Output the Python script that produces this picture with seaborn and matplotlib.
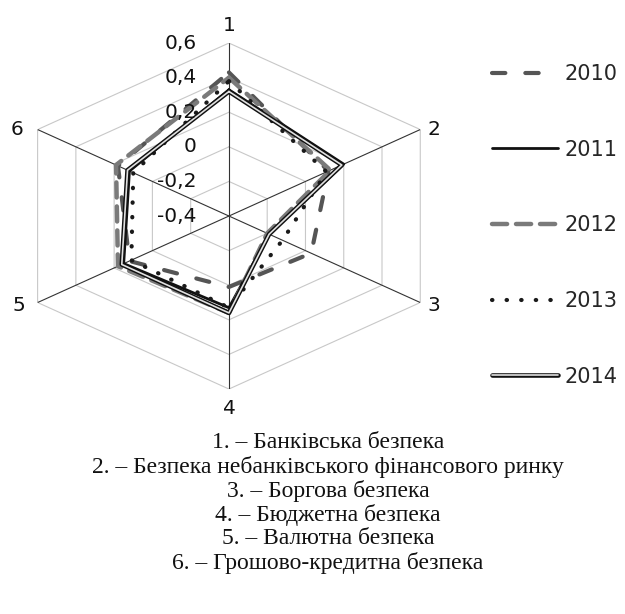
import numpy as np
import pandas as pd
import matplotlib
matplotlib.use("Agg")
import matplotlib.pyplot as plt
import matplotlib.patheffects as pe
import seaborn as sns

# ---------------- data ----------------
axis_labels = ["1", "2", "3", "4", "5", "6"]
years = ["2010", "2011", "2012", "2013", "2014"]
v2010 = [0.43, 0.12, 0.03, 0.01, 0.12, 0.18]
v2011 = [0.33, 0.20, -0.19, 0.13, 0.15, 0.12]
v2012 = [0.40, 0.13, -0.20, 0.16, 0.18, 0.19]
v2013 = [0.38, 0.11, -0.12, 0.13, 0.11, 0.10]
v2014 = [0.32, 0.19, -0.19, 0.16, 0.16, 0.13]
tick_values = [-0.4, -0.2, 0.0, 0.2, 0.4, 0.6]
tick_labels = ["-0,4", "-0,2", "0", "0,2", "0,4", "0,6"]
notes = [
    "1. – Банківська безпека",
    "2. – Безпека небанківського фінансового ринку",
    "3. – Боргова безпека",
    "4. – Бюджетна безпека",
    "5. – Валютна безпека",
    "6. – Грошово-кредитна безпека",
]

series = {"2010": v2010, "2011": v2011, "2012": v2012, "2013": v2013, "2014": v2014}

sns.set_theme(style="white")
plt.rcParams["font.family"] = ["DejaVu Sans"]

n = len(axis_labels)
angles = np.linspace(0, 2 * np.pi, n, endpoint=False)
closed = np.append(angles, angles[0])

rows = []
for y in years:
    vals = list(series[y]) + [series[y][0]]
    for t, v in zip(closed, vals):
        rows.append({"theta": t, "value": v, "year": y})
df = pd.DataFrame(rows)

fig = plt.figure(figsize=(6.25, 6.14), dpi=100)
ax = fig.add_axes([0.0128, 0.3664, 0.707, 0.5635], projection="polar")
ax.set_aspect("auto")
ax.set_theta_zero_location("N")
ax.set_theta_direction(-1)
ax.grid(False)
ax.spines["polar"].set_visible(False)

vmin, vmax = tick_values[0], tick_values[-1]

# hexagonal grid
for lvl in tick_values[1:]:
    ax.plot(closed, [lvl] * (n + 1), color="#c8c8c8", lw=0.8, zorder=1)
for a in angles:
    ax.plot([a, a], [vmin, vmax], color="#333333", lw=0.8, zorder=1)

styles = {
    "2010": dict(color="#555555", lw=3.0, linestyle=(0, (3.2, 4.8)), dash_capstyle="round"),
    "2011": dict(color="#111111", lw=2.0, linestyle="-"),
    "2012": dict(color="#7a7a7a", lw=3.2, linestyle=(0, (3.4, 2.0)), dash_capstyle="round"),
    "2013": dict(color="#1a1a1a", lw=3.0, linestyle=(0, (0.1, 3.4)), dash_capstyle="round"),
    "2014": dict(color="#e0e0e0", lw=1.2, linestyle="-",
                 path_effects=[pe.Stroke(linewidth=3.3, foreground="#111111"), pe.Normal()]),
}

handles = []
for y in years:
    before = len(ax.lines)
    sns.lineplot(data=df[df["year"] == y], x="theta", y="value", sort=False,
                 estimator=None, ax=ax, legend=False, zorder=3, **styles[y])
    handles.append(ax.lines[before])

ax.set_xlim(0, 2 * np.pi)
ax.set_ylim(vmin, vmax)
ax.set_xticks([])
ax.set_yticks([])
ax.set_xlabel("")
ax.set_ylabel("")

# ring labels
for v, lab in zip(tick_values, tick_labels):
    ax.annotate(lab, xy=(0, v), xytext=(-32, 0), textcoords="offset pixels",
                ha="right", va="center", fontsize=14.5, color="#111111")

# axis labels
offsets = [(0, 18), (14, 0), (14, -3), (0, -19), (-19, -3), (-21, 0)]
for a, lab, off in zip(angles, axis_labels, offsets):
    ax.annotate(lab, xy=(a, vmax), xytext=off, textcoords="offset pixels",
                ha="center", va="center", fontsize=14.5, color="#111111")

fig.legend(handles, years, loc="center left", bbox_to_anchor=(0.787, 0.633),
           frameon=False, fontsize=15, labelspacing=2.67, handlelength=3.17,
           handletextpad=0.34, borderpad=0, borderaxespad=0)

for i, t in enumerate(notes):
    fig.text(0.525, 1 - (443 + 24 * i) / 614, t, ha="center", va="center",
             family=["Liberation Serif"], fontsize=17, color="#111111")

fig.savefig("out.png", dpi=100, facecolor="white")
